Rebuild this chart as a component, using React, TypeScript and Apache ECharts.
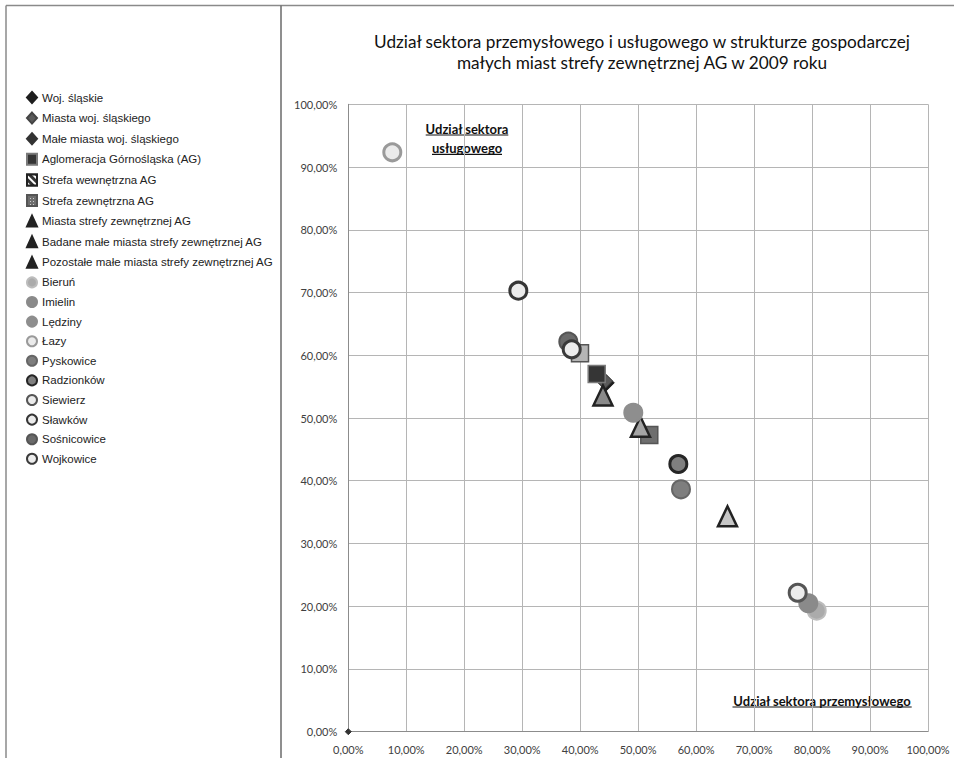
import React, { useEffect, useRef } from "react";
import * as echarts from "echarts";

// Legend / series names
const names: string[] = [
  "Woj. śląskie",
  "Miasta woj. śląskiego",
  "Małe miasta woj. śląskiego",
  "Aglomeracja Górnośląska (AG)",
  "Strefa wewnętrzna AG",
  "Strefa zewnętrzna AG",
  "Miasta strefy zewnętrznej AG",
  "Badane małe miasta strefy zewnętrznej AG",
  "Pozostałe małe miasta strefy zewnętrznej AG",
  "Bieruń",
  "Imielin",
  "Lędziny",
  "Łazy",
  "Pyskowice",
  "Radzionków",
  "Siewierz",
  "Sławków",
  "Sośnicowice",
  "Wojkowice",
];

// Udział sektora przemysłowego (%)
const industryShare: number[] = [
  44.5, 44.2, 0, 42.85, 39.97, 51.92, 43.93, 50.4, 65.41,
  80.8, 79.35, 49.16, 7.59, 57.39, 56.93, 77.52, 29.33, 37.95, 38.54,
];

// Udział sektora usługowego (%)
const servicesShare: number[] = [
  55.6, 55.9, 0, 57.01, 60.31, 47.29, 53.58, 48.6, 34.33,
  19.29, 20.47, 50.84, 92.35, 38.64, 42.67, 22.15, 70.29, 62.16, 60.95,
];

const titleLines: string[] = [
  "Udział sektora przemysłowego i usługowego w strukturze gospodarczej",
  "małych miast strefy zewnętrznej AG w 2009 roku",
];
const servicesLabel: string[] = ["Udział sektora", "usługowego"];
const industryLabel = "Udział sektora przemysłowego";

const axisMin = 0;
const axisMax = 100;
const axisStep = 10;

type MarkStyle = {
  symbol: string;
  size: number | number[];
  fill: string;
  border: string;
  bw: number;
  decal?: any;
  legendFill?: string;
};

const diagDecal = { symbol: "rect", symbolSize: 1, color: "#ffffff", dashArrayX: [1, 0], dashArrayY: [2, 3], rotation: Math.PI / 4 };
const dotDecal = { symbol: "rect", symbolSize: 1, color: "#cfcfcf", dashArrayX: [1, 2], dashArrayY: [1, 2] };

const markStyles: MarkStyle[] = [
  { symbol: "diamond", size: 16, fill: "#1e1e1e", border: "#1e1e1e", bw: 1 },
  { symbol: "diamond", size: 16, fill: "#5a5a5a", border: "#444444", bw: 1 },
  { symbol: "diamond", size: 6, fill: "#333333", border: "#333333", bw: 1 },
  { symbol: "rect", size: 17, fill: "#353535", border: "#7a7a7a", bw: 1.5 },
  { symbol: "rect", size: 17, fill: "#b5b5b5", border: "#555555", bw: 1.5, decal: diagDecal, legendFill: "#333333" },
  { symbol: "rect", size: 17, fill: "#6e6e6e", border: "#555555", bw: 1.5, decal: dotDecal },
  { symbol: "triangle", size: [19, 20], fill: "#8a8a8a", border: "#222222", bw: 2.5, legendFill: "#222222" },
  { symbol: "triangle", size: [19, 20], fill: "#a4a4a4", border: "#222222", bw: 2.5, legendFill: "#222222" },
  { symbol: "triangle", size: [19, 20], fill: "#c6c6c6", border: "#222222", bw: 2.5, legendFill: "#222222" },
  { symbol: "circle", size: 18, fill: "#ababab", border: "#bdbdbd", bw: 2 },
  { symbol: "circle", size: 18, fill: "#8a8a8a", border: "#8a8a8a", bw: 2 },
  { symbol: "circle", size: 18, fill: "#8e8e8e", border: "#8e8e8e", bw: 2 },
  { symbol: "circle", size: 17, fill: "#ebebeb", border: "#9a9a9a", bw: 3 },
  { symbol: "circle", size: 18, fill: "#7e7e7e", border: "#666666", bw: 2 },
  { symbol: "circle", size: 17, fill: "#808080", border: "#262626", bw: 3 },
  { symbol: "circle", size: 17, fill: "#ececec", border: "#555555", bw: 3 },
  { symbol: "circle", size: 17, fill: "#ebebeb", border: "#353535", bw: 3 },
  { symbol: "circle", size: 18, fill: "#6a6a6a", border: "#555555", bw: 2 },
  { symbol: "circle", size: 17, fill: "#ececec", border: "#3a3a3a", bw: 3 },
];

const fmt = (v: number) => v.toFixed(2).replace(".", ",") + "%";

export default function App() {
  const ref = useRef<HTMLDivElement>(null);

  useEffect(() => {
    document.body.style.margin = "0";
    if (!ref.current) return;
    const chart = echarts.init(ref.current, undefined, { renderer: "svg" });

    const frame = "#8a8a8a";
    const labelFont = "Lato";

    const series = names.map((name, i) => {
      const s = markStyles[i];
      const itemStyle: any = {
        color: s.fill,
        borderColor: s.border,
        borderWidth: s.bw,
        opacity: 1,
      };
      if (s.decal) itemStyle.decal = s.decal;
      return {
        name,
        type: "scatter",
        symbol: s.symbol,
        symbolSize: s.size,
        silent: true,
        itemStyle,
        emphasis: { disabled: true },
        data: [[industryShare[i], servicesShare[i]]],
      };
    });

    const legendData = names.map((name, i) => {
      const s = markStyles[i];
      const item: any = { name };
      if (s.legendFill) item.itemStyle = { color: s.legendFill, borderColor: "#222222" };
      return item;
    });

    chart.setOption({
      animation: false,
      backgroundColor: "#ffffff",
      title: {
        text: titleLines.join("\n"),
        left: 637,
        top: 26,
        textAlign: "center",
        textStyle: {
          fontFamily: labelFont,
          fontSize: 17.2,
          fontWeight: "normal",
          color: "#111111",
          lineHeight: 21,
        },
      },
      legend: {
        data: legendData,
        orient: "vertical",
        left: 21,
        top: 86,
        itemWidth: 10,
        itemHeight: 11,
        itemGap: 7.6,
        selectedMode: false,
        textStyle: {
          fontFamily: "Liberation Sans",
          fontSize: 11.5,
          lineHeight: 11,
          color: "#222222",
        },
      },
      grid: { left: 348.3, right: 26, top: 104.3, bottom: 26.3, containLabel: false },
      xAxis: {
        type: "value",
        min: axisMin,
        max: axisMax,
        interval: axisStep,
        axisLine: { show: true, lineStyle: { color: "#8c8c8c", width: 1 } },
        axisTick: { show: false },
        splitLine: { show: true, lineStyle: { color: "#b5b5b5", width: 1 } },
        axisLabel: {
          formatter: fmt,
          fontFamily: labelFont,
          fontSize: 11,
          color: "#404040",
          margin: 12,
        },
      },
      yAxis: {
        type: "value",
        min: axisMin,
        max: axisMax,
        interval: axisStep,
        axisLine: { show: true, lineStyle: { color: "#8c8c8c", width: 1 } },
        axisTick: { show: false },
        splitLine: { show: true, lineStyle: { color: "#b5b5b5", width: 1 } },
        axisLabel: {
          formatter: fmt,
          fontFamily: labelFont,
          fontSize: 11,
          color: "#404040",
          margin: 11,
        },
      },
      graphic: [
        { type: "line", shape: { x1: 6, y1: 5.5, x2: 954, y2: 5.5 }, style: { stroke: frame, lineWidth: 1.5 } },
        { type: "line", shape: { x1: 6, y1: 5.5, x2: 6, y2: 758 }, style: { stroke: frame, lineWidth: 1.5 } },
        { type: "line", shape: { x1: 281, y1: 5.5, x2: 281, y2: 758 }, style: { stroke: "#6a6a6a", lineWidth: 1.5 } },
        {
          type: "text",
          x: 467,
          y: 129,
          style: {
            text: servicesLabel[0],
            fontFamily: labelFont,
            fontSize: 13,
            fontWeight: "bold",
            fill: "#111111",
            align: "center",
            verticalAlign: "middle",
          },
        },
        { type: "line", shape: { x1: 425.7, y1: 135, x2: 508.3, y2: 135 }, style: { stroke: "#111111", lineWidth: 1.2 } },
        {
          type: "text",
          x: 467,
          y: 148.3,
          style: {
            text: servicesLabel[1],
            fontFamily: labelFont,
            fontSize: 13,
            fontWeight: "bold",
            fill: "#111111",
            align: "center",
            verticalAlign: "middle",
          },
        },
        { type: "line", shape: { x1: 432, y1: 154.3, x2: 502, y2: 154.3 }, style: { stroke: "#111111", lineWidth: 1.2 } },
        {
          type: "text",
          x: 822,
          y: 701,
          style: {
            text: industryLabel,
            fontFamily: labelFont,
            fontSize: 13,
            fontWeight: "bold",
            fill: "#111111",
            align: "center",
            verticalAlign: "middle",
          },
        },
        { type: "line", shape: { x1: 732.5, y1: 707, x2: 911.7, y2: 707 }, style: { stroke: "#111111", lineWidth: 1.2 } },
      ],
      series,
    });

    return () => chart.dispose();
  }, []);

  return (
    <div
      ref={ref}
      style={{ position: "absolute", left: 0, top: 0, width: 954, height: 758, background: "#fff" }}
    />
  );
}
